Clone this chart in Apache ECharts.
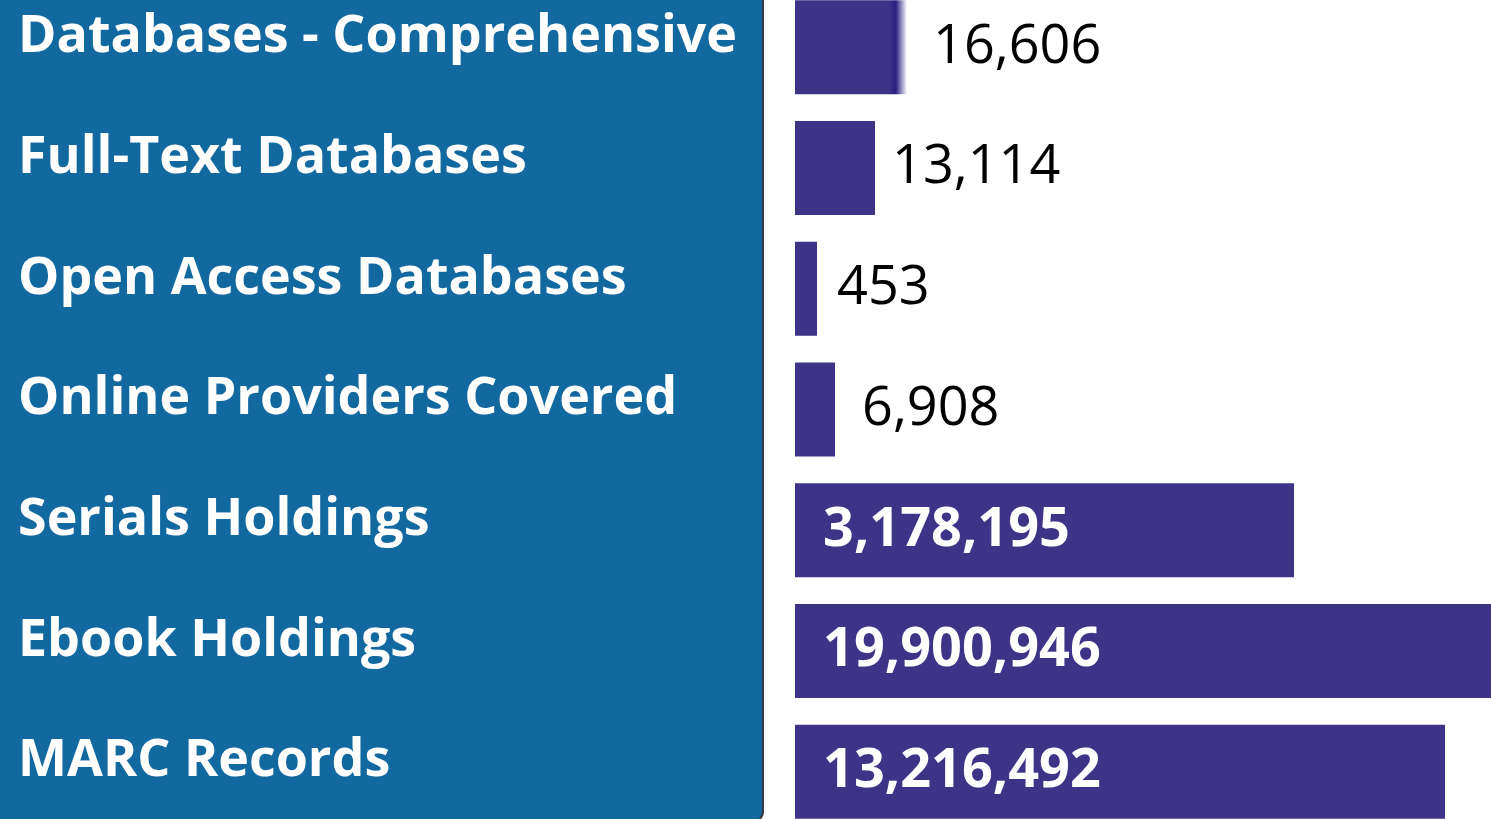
<!DOCTYPE html>
<html>
<head>
<meta charset="utf-8">
<script src="https://cdn.jsdelivr.net/npm/echarts@6/dist/echarts.min.js"></script>
<style>
html,body{margin:0;padding:0;background:#ffffff;overflow:hidden;}
#wrap{width:1491px;height:819px;overflow:hidden;position:relative;}
#chart{width:1491px;height:845px;position:absolute;left:0;top:-13px;}
</style>
</head>
<body>
<div id="wrap"><div id="chart"></div></div>
<script>
// Categories (top to bottom)
const categories = [
  'Databases - Comprehensive',
  'Full-Text Databases',
  'Open Access Databases',
  'Online Providers Covered',
  'Serials Holdings',
  'Ebook Holdings',
  'MARC Records'
];
// Values shown as labels
const values = [16606, 13114, 453, 6908, 3178195, 19900946, 13216492];
// Bar lengths as drawn in the infographic (relative units; not proportional to values)
const barLengths = [112, 80, 22, 40, 499, 700, 650];
// Value axis range (relative units)
const axisMin = 0;
const axisMax = 696;

// styling helpers
const bigThreshold = 1000000;
const smallLabelGap = [26, 17, 20, 27];
const barColor = '#3d3387';

const fmt = v => v.toLocaleString('en-US');

const seriesData = barLengths.map((len, i) => {
  const big = values[i] >= bigThreshold;
  const item = {
    value: len,
    label: big ? {
      show: true, position: 'insideLeft', distance: 28,
      color: '#ffffff', fontWeight: 'bold', fontSize: 54,
      fontFamily: 'Open Sans'
    } : {
      show: true, position: 'right', distance: smallLabelGap[i] || 20,
      color: '#000000', fontWeight: 'normal', fontSize: 54,
      fontFamily: 'Open Sans'
    }
  };
  if (i === 0) {
    item.itemStyle = {
      color: {
        type: 'linear', x: 0, y: 0, x2: 1, y2: 0,
        colorStops: [
          {offset: 0, color: barColor},
          {offset: 0.84, color: barColor},
          {offset: 0.9, color: '#2a1f80'},
          {offset: 1, color: '#ffffff'}
        ]
      }
    };
  }
  return item;
});

const chart = echarts.init(document.getElementById('chart'), null, {renderer: 'canvas'});
chart.setOption({
  animation: false,
  backgroundColor: '#ffffff',
  graphic: [
    {
      type: 'rect', z: -10, silent: true,
      shape: {x: -10, y: -10, width: 773, height: 846, r: [0, 0, 12, 0]},
      style: {fill: '#12699f', stroke: '#2f3b45', lineWidth: 2}
    }
  ],
  grid: {left: 795, right: 0, top: 0, bottom: 0, containLabel: false},
  xAxis: {
    type: 'value', min: axisMin, max: axisMax,
    show: false
  },
  yAxis: {
    type: 'category', data: categories, inverse: true,
    axisLine: {show: false}, axisTick: {show: false}, splitLine: {show: false},
    axisLabel: {
      align: 'left', margin: 777,
      verticalAlign: 'bottom', lineHeight: 20,
      color: '#ffffff', fontWeight: 'bold', fontSize: 52,
      fontFamily: 'Open Sans'
    }
  },
  series: [{
    type: 'bar',
    data: seriesData,
    barWidth: 94,
    itemStyle: {color: barColor},
    label: {
      formatter: p => fmt(values[p.dataIndex])
    }
  }]
});
</script>
</body>
</html>
